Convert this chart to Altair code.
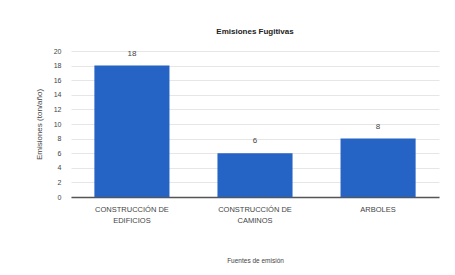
import altair as alt
import pandas as pd

categories = ["CONSTRUCCIÓN DE EDIFICIOS", "CONSTRUCCIÓN DE CAMINOS", "ARBOLES"]
values = [18, 6, 8]
y_ticks = list(range(0, 21, 2))

df = pd.DataFrame({"cat": categories, "val": values})

x = alt.X("cat:N", sort=categories, title="Fuentes de emisión",
          scale=alt.Scale(paddingInner=0.39, paddingOuter=0.19),
          axis=alt.Axis(labelAngle=0, labelFontSize=7.5, labelColor="#444",
                        labelExpr="split(replace(datum.label, ' DE ', ' DE|'), '|')",
                        labelLimit=150, ticks=False, domainColor="#555", domainWidth=1.5,
                        labelLineHeight=11,
                        titleFontSize=6.5, titleFontWeight="normal", titleColor="#444",
                        titlePadding=34, labelPadding=8))
y = alt.Y("val:Q", title="Emisiones (ton/año)",
          scale=alt.Scale(domain=[0, 20], nice=False),
          axis=alt.Axis(values=y_ticks, tickCount=11, labelFontSize=7, labelColor="#444", grid=True,
                        gridColor="#e6e6e6", domain=False, ticks=False, labelPadding=10,
                        labelOverlap=False,
                        titleFontSize=8, titleFontWeight="normal", titleColor="#444",
                        titlePadding=10))

bars = alt.Chart(df).mark_bar(color="#2563c4").encode(x=x, y=y)
text = alt.Chart(df).mark_text(dy=-12, fontSize=8, color="#444").encode(
    x=x, y=y, text="val:Q")

chart = (bars + text).properties(
    width=368, height=146,
    padding={"left": 27, "top": 20, "right": 5, "bottom": 5},
    title=alt.TitleParams("Emisiones Fugitivas", fontSize=8, fontWeight="bold", color="#222", offset=11),
    background="white",
).configure_view(stroke=None)

chart.save("out.html", embed_options={"renderer": "svg", "actions": False})
